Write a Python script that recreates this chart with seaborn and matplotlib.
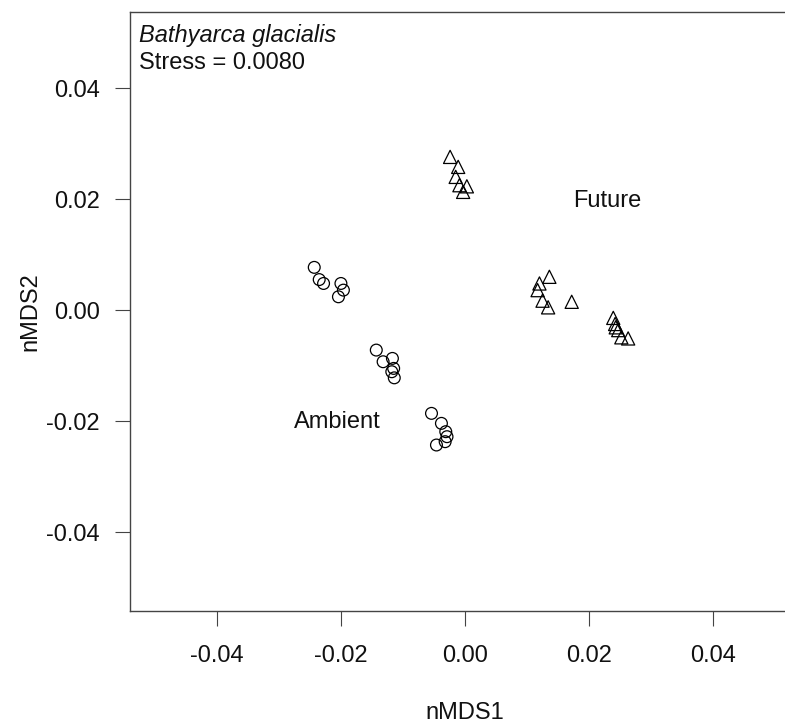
import numpy as np
import pandas as pd
import matplotlib
matplotlib.use("Agg")
import matplotlib.pyplot as plt
import seaborn as sns

# nMDS scores
ambient_x = [-0.0243, -0.0235, -0.0228, -0.0200, -0.0196, -0.0204,
             -0.0143, -0.0132, -0.0117, -0.0115, -0.0118, -0.0114,
             -0.0054, -0.0038, -0.0031, -0.0029, -0.0032, -0.0046]
ambient_y = [0.0077, 0.0055, 0.0048, 0.0048, 0.0036, 0.0024,
             -0.0072, -0.0093, -0.0087, -0.0105, -0.0111, -0.0122,
             -0.0186, -0.0204, -0.0219, -0.0228, -0.0237, -0.0243]

future_x = [-0.0024, -0.0011, -0.0015, -0.0009, 0.0003, -0.0003,
            0.0136, 0.0120, 0.0117, 0.0125, 0.0134, 0.0172,
            0.0239, 0.0242, 0.0247, 0.0252, 0.0263, 0.0243]
future_y = [0.0276, 0.0258, 0.0240, 0.0225, 0.0223, 0.0213,
            0.0060, 0.0048, 0.0036, 0.0017, 0.0005, 0.0015,
            -0.0014, -0.0025, -0.0036, -0.0049, -0.0051, -0.0031]

group_labels = ["Ambient", "Future"]
label_x = [-0.0205, 0.0230]
label_y = [-0.0213, 0.0186]

ticks = [-0.04, -0.02, 0.00, 0.02, 0.04]
species = "Bathyarca glacialis"
stress_text = "Stress = 0.0080"

data = pd.DataFrame({
    "nMDS1": ambient_x + future_x,
    "nMDS2": ambient_y + future_y,
    "Treatment": ["Ambient"] * len(ambient_x) + ["Future"] * len(future_x),
})

sns.set_style("ticks")
plt.rcParams["font.family"] = ["Liberation Sans", "DejaVu Sans"]
plt.rcParams["axes.unicode_minus"] = False

fig = plt.figure(figsize=(7.85, 7.27), dpi=100)
# the original figure is cropped on the right, so the box runs past the edge
ax = fig.add_axes([130 / 785, 116 / 727, 670 / 785, 599 / 727])

sns.scatterplot(data=data[data["Treatment"] == "Ambient"], x="nMDS1", y="nMDS2",
                marker="o", s=72, facecolors="none", edgecolor="black",
                linewidth=0.9, ax=ax, legend=False)
sns.scatterplot(data=data[data["Treatment"] == "Future"], x="nMDS1", y="nMDS2",
                marker="^", s=90, facecolors="none", edgecolor="black",
                linewidth=0.9, ax=ax, legend=False)

for lab, lx, ly in zip(group_labels, label_x, label_y):
    ax.text(lx, ly, lab, ha="center", va="baseline", fontsize=17, color="#111111")

ax.text(0.0134, 0.9499, species, transform=ax.transAxes, fontsize=17,
        style="italic", va="baseline", ha="left", color="#111111")
ax.text(0.0134, 0.9048, stress_text, transform=ax.transAxes, fontsize=17,
        va="baseline", ha="left", color="#111111")

ax.set_xlim(-0.054, 0.054)
ax.set_ylim(-0.0542, 0.0537)
ax.set_xticks(ticks)
ax.set_yticks(ticks)
ax.set_xticklabels([f"{t:.2f}" for t in ticks])
ax.set_yticklabels([f"{t:.2f}" for t in ticks])
ax.tick_params(axis="both", length=10.8, width=0.8, color="#444444",
               labelsize=17, labelcolor="#111111")
ax.tick_params(axis="x", pad=14)
ax.tick_params(axis="y", pad=11)

for side in ["left", "right", "top", "bottom"]:
    ax.spines[side].set_visible(True)
    ax.spines[side].set_color("#444444")
    ax.spines[side].set_linewidth(1.0)

ax.set_xlabel("nMDS1", fontsize=17, color="#111111")
ax.set_ylabel("nMDS2", fontsize=17, color="#111111")
ax.xaxis.set_label_coords(0.5, -0.1703)
ax.xaxis.label.set_verticalalignment("center")
ax.yaxis.set_label_coords(-0.149, 0.5)
ax.yaxis.label.set_verticalalignment("center")
ax.yaxis.label.set_horizontalalignment("center")

fig.savefig("out.png", dpi=100)
